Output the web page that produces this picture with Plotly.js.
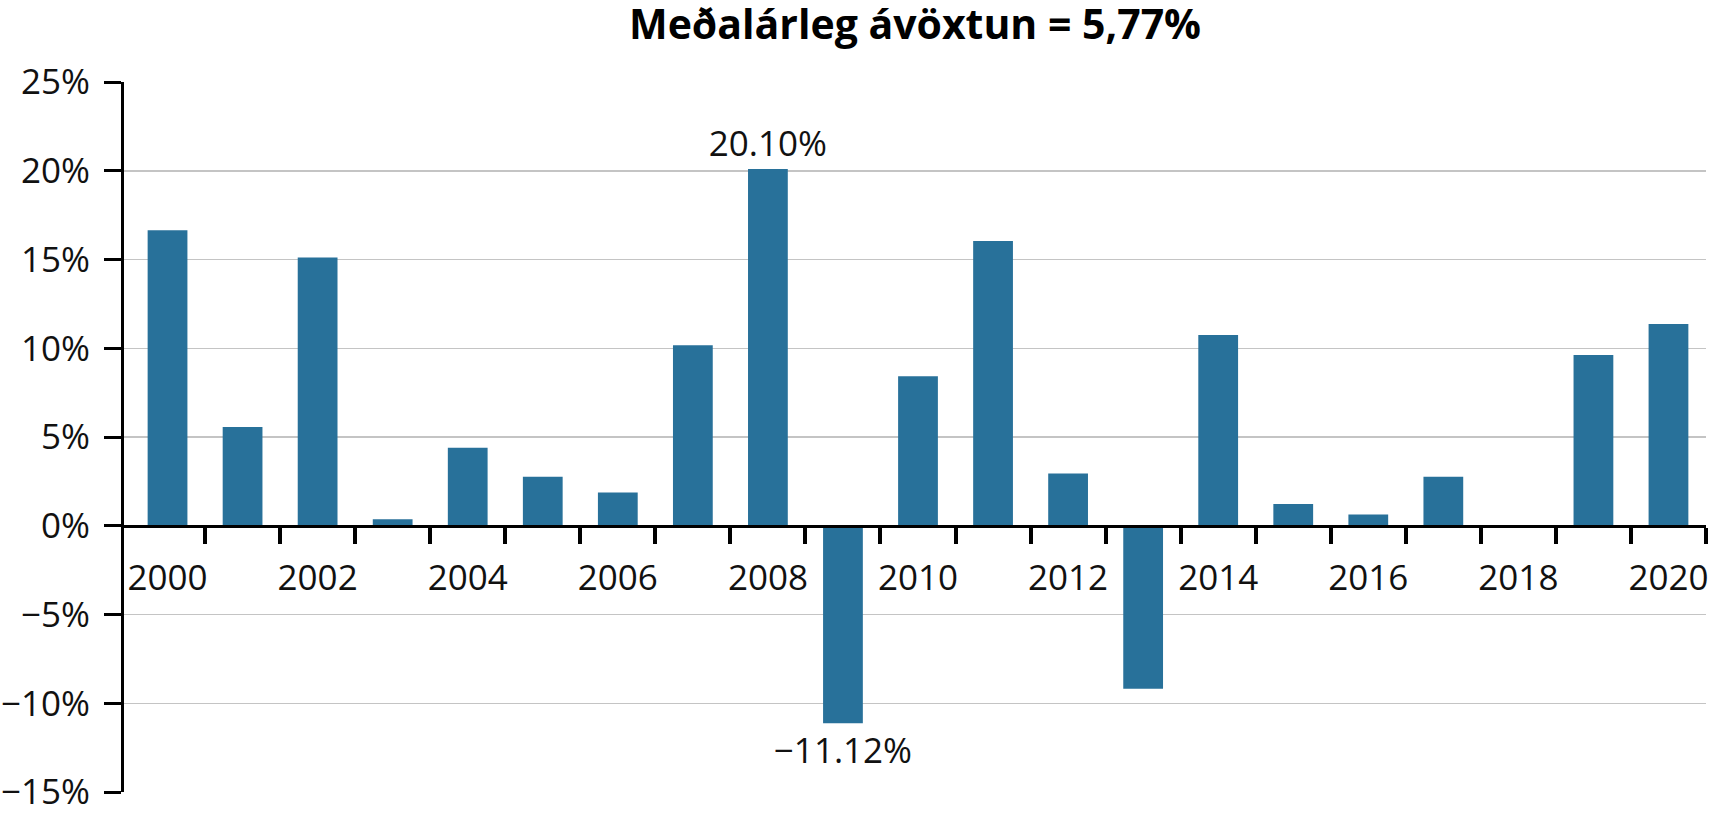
<!DOCTYPE html>
<html>
<head>
<meta charset="utf-8">
<script src="https://cdn.plot.ly/plotly-3.0.1.min.js"></script>
<style>
  html, body { margin: 0; padding: 0; background: #fff; }
  #chart { width: 1710px; height: 821px; }
</style>
</head>
<body>
<div id="chart"></div>
<script>
// árleg ávöxtun, %
var years = [2000, 2001, 2002, 2003, 2004, 2005, 2006, 2007, 2008, 2009, 2010,
             2011, 2012, 2013, 2014, 2015, 2016, 2017, 2018, 2019, 2020];
var returns = [16.65, 5.56, 15.11, 0.36, 4.40, 2.76, 1.88, 10.17, 20.10, -11.12, 8.42,
               16.04, 2.95, -9.19, 10.75, 1.23, 0.64, 2.76, 0, 9.62, 11.36];
var labelled = [2008, 2009];   // only these bars carry a value label
var yTicks = [-15, -10, -5, 0, 5, 10, 15, 20, 25];
var xTicks = [2000, 2002, 2004, 2006, 2008, 2010, 2012, 2014, 2016, 2018, 2020];
var titleText = 'Meðalárleg ávöxtun = 5,77%';

var fontFam = '"Open Sans", "Noto Sans", sans-serif';

function fmt(v) {
  var s = Math.abs(v).toFixed(2) + '%';
  return v < 0 ? '\u2212' + s : s;
}

var barText = years.map(function (y, i) {
  return labelled.indexOf(y) >= 0 ? fmt(returns[i]) : '';
});

// tick marks sit between the years
var boundaries = years.map(function (y) { return y + 0.5; });

var trace = [{
  type: 'bar',
  x: years,
  y: returns,
  width: 0.53,
  marker: { color: '#28719a' },
  text: barText,
  textposition: 'outside',
  constraintext: 'none',
  cliponaxis: false,
  textfont: { family: fontFam, size: 35, color: '#111' },
  hoverinfo: 'x+y'
}];

var layout = {
  width: 1710,
  height: 821,
  margin: { l: 124, r: 4, t: 82, b: 29, pad: 0 },
  paper_bgcolor: '#fff',
  plot_bgcolor: '#fff',
  showlegend: false,
  font: { family: fontFam, size: 35, color: '#111' },
  title: {
    text: '<b>' + titleText + '</b>',
    font: { family: fontFam, size: 41, color: '#000' },
    x: 0.5, xref: 'paper', xanchor: 'center',
    y: 0.97, yref: 'container', yanchor: 'middle'
  },
  xaxis: {
    range: [1999.42, 2020.5],
    anchor: 'free',
    position: 15 / 40,
    showline: true,
    linecolor: '#000',
    linewidth: 3,
    showgrid: false,
    zeroline: false,
    tickmode: 'array',
    tickvals: xTicks,
    ticktext: xTicks.map(String),
    ticks: 'outside',
    ticklen: 16,
    tickcolor: 'rgba(0,0,0,0)',
    ticklabelstandoff: 4,
    tickfont: { family: fontFam, size: 35, color: '#111' },
    minor: {
      tickmode: 'array',
      tickvals: boundaries,
      ticks: 'outside',
      ticklen: 16,
      tickwidth: 4,
      tickcolor: '#000',
      showgrid: false
    }
  },
  yaxis: {
    range: [-15, 25],
    tickmode: 'array',
    tickvals: yTicks,
    ticktext: yTicks.map(function (v) { return (v < 0 ? '\u2212' + Math.abs(v) : v) + '%'; }),
    showline: true,
    linecolor: '#000',
    linewidth: 3,
    ticks: 'outside',
    ticklen: 17,
    tickwidth: 3,
    tickcolor: '#000',
    ticklabelstandoff: 7,
    showgrid: true,
    gridcolor: '#c4c4c4',
    gridwidth: 1.5,
    zeroline: false,
    tickfont: { family: fontFam, size: 35, color: '#111' }
  }
};

Plotly.newPlot('chart', trace, layout, { displayModeBar: false, staticPlot: true });
</script>
</body>
</html>
